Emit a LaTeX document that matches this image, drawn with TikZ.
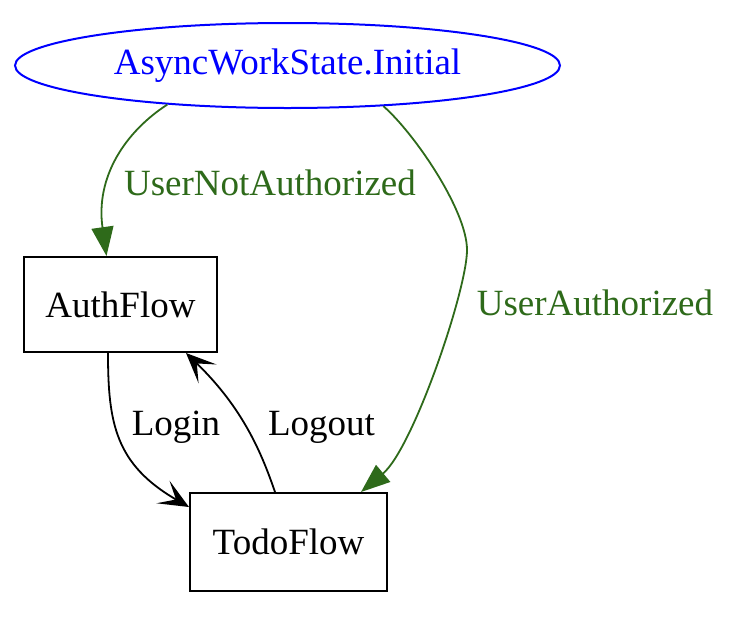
\documentclass[tikz,border=0pt]{standalone}
\usepackage{fontspec}
\setmainfont{Liberation Serif}
\usepackage{tikz}
\usetikzlibrary{shapes.geometric, arrows.meta}

\definecolor{stategreen}{RGB}{46,106,26}

\begin{document}
\begin{tikzpicture}[
 x=0.5pt, y=-0.5pt,
 font=\fontsize{18.5}{22}\selectfont,
 init/.style={ellipse, draw=blue, line width=1pt, text=blue,
  minimum width=272.5pt, minimum height=42.5pt, inner sep=0pt},
 flow/.style={rectangle, draw, line width=1pt, inner sep=0pt},
 green edge/.style={draw=stategreen, line width=0.9pt,
  -{Triangle[length=14.5pt, width=11pt]}},
 black edge/.style={draw, line width=0.9pt,
  -{Stealth[length=15pt, width=13pt, inset=7.5pt]}},
 glbl/.style={text=stategreen, anchor=base, inner sep=0pt},
 lbl/.style={anchor=base, inner sep=0pt}
]
\useasboundingbox (0,0) rectangle (738,632);

% states
\node [init] (initial) at (287.5,65.5) {AsyncWorkState.Initial};
\node [flow, minimum width=96.5pt, minimum height=47.5pt] (auth) at (120.5,304.5) {AuthFlow};
\node [flow, minimum width=98.5pt, minimum height=49pt] (todo) at (288.5,542) {TodoFlow};
\coordinate (uabend) at (467,250);

% transitions
\draw [green edge] (initial.198) .. controls +(213:25pt) and +(98:40pt) .. ([xshift=-7pt]auth.north);
\draw [green edge] (initial.-23) .. controls +(-41:20pt) and +(90:20pt) .. (uabend)
  .. controls +(-90:20pt) and +(40:34pt) .. ([xshift=-13.5pt]todo.north east);
\draw [black edge] ([xshift=-6.25pt]auth.south) .. controls +(-90:35pt) and +(150:42.5pt) .. ([yshift=-7.5pt]todo.north west);
\draw [black edge] ([xshift=-6.75pt]todo.north) .. controls +(109:20pt) and +(-44:40pt) .. ([xshift=-16pt]auth.south east);

% labels
\node [glbl] (notauth) at (270,195) {UserNotAuthorized};
\node [glbl] (authd) at (595,315) {UserAuthorized};
\node [lbl] (login) at (176,435) {Login};
\node [lbl] (logout) at (321.5,435) {Logout};
\end{tikzpicture}
\end{document}
